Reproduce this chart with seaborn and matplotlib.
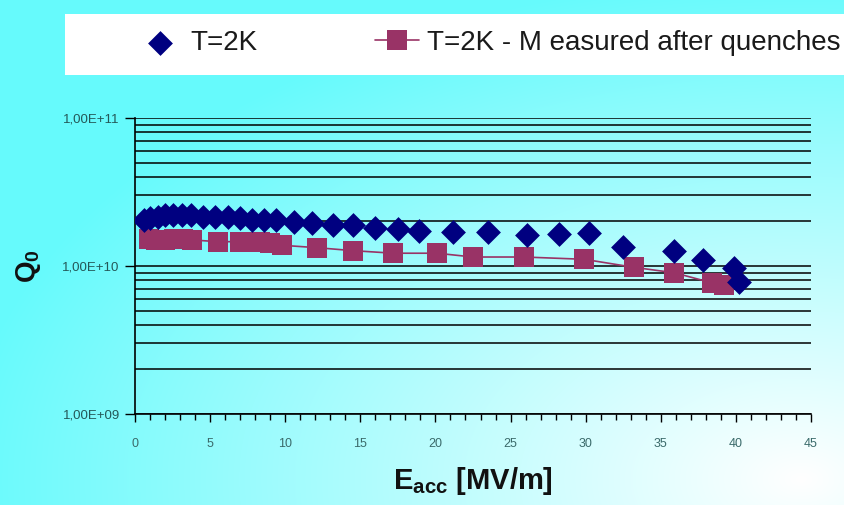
import matplotlib
matplotlib.use("Agg")
import matplotlib.pyplot as plt
import seaborn as sns
import numpy as np
import pandas as pd
from matplotlib.ticker import FixedLocator, FuncFormatter, MultipleLocator

# T=2K
e_2k = [0.6, 1.0, 1.5, 2.0, 2.5, 3.1, 3.7, 4.5, 5.3, 6.2, 7.0, 7.8, 8.6, 9.4, 10.6, 11.8,
        13.2, 14.5, 16.0, 17.5, 18.9, 21.2, 23.5, 26.1, 28.2, 30.2, 32.5, 35.9, 37.8, 39.9, 40.2]
q_2k = [2.05e10, 2.1e10, 2.15e10, 2.2e10, 2.2e10, 2.2e10, 2.2e10, 2.15e10, 2.15e10, 2.15e10,
        2.1e10, 2.05e10, 2.05e10, 2.05e10, 1.98e10, 1.95e10, 1.9e10, 1.88e10, 1.8e10, 1.78e10,
        1.72e10, 1.7e10, 1.7e10, 1.62e10, 1.65e10, 1.67e10, 1.34e10, 1.26e10, 1.1e10, 0.97e10, 0.78e10]

# T=2K - measured after quenches
e_q = [0.9, 1.4, 2.0, 2.6, 3.2, 3.8, 5.5, 7.0, 7.6, 8.3, 9.0, 9.8, 12.1, 14.5, 17.2, 20.1,
       22.5, 25.9, 29.9, 33.2, 35.9, 38.4, 39.2]
q_q = [1.52e10, 1.5e10, 1.5e10, 1.52e10, 1.52e10, 1.5e10, 1.46e10, 1.46e10, 1.46e10, 1.45e10,
       1.43e10, 1.38e10, 1.33e10, 1.27e10, 1.22e10, 1.22e10, 1.15e10, 1.15e10, 1.11e10, 0.98e10,
       0.90e10, 0.77e10, 0.74e10]

y_ticks = [1e9, 1e10, 1e11]
y_ticklabels = ["1,00E+09", "1,00E+10", "1,00E+11"]
x_ticks = [0, 5, 10, 15, 20, 25, 30, 35, 40, 45]

df1 = pd.DataFrame({"E": e_2k, "Q": q_2k})
df2 = pd.DataFrame({"E": e_q, "Q": q_q})

sns.set_style("white")
plt.rcParams["font.family"] = ["Liberation Sans", "DejaVu Sans"]

fig = plt.figure(figsize=(8.44, 5.05), dpi=100)

# background gradient
bg = fig.add_axes([0, 0, 1, 1], zorder=-10)
H, W = 505, 844
uu, vv = np.meshgrid(np.linspace(0, 1, W), np.linspace(0, 1, H))
d = np.sqrt((uu - 0.95) ** 2 + (vv - 0.95) ** 2)
w = np.clip(1 - d / 1.0, 0, 1)[..., None]
cyan = np.array([102, 250, 252]) / 255.0
img = cyan * (1 - w) + np.ones(3) * w
bg.imshow(img, aspect="auto", extent=[0, 1, 0, 1], origin="upper")
bg.axis("off")

# white legend box
fig.patches.append(plt.Rectangle((65 / W, 1 - 75 / H), 1.0, 61 / H, transform=fig.transFigure,
                                 facecolor="white", edgecolor="none", zorder=-5))

ax = fig.add_axes([135 / W, 1 - 414 / H, 676 / W, 296 / H])
ax.patch.set_alpha(0)

sns.lineplot(data=df2, x="E", y="Q", ax=ax, color="#993366", lw=1.2, marker="s", markersize=14,
             markeredgewidth=0, label="T=2K - M easured after quenches", zorder=3, sort=True)
sns.scatterplot(data=df1, x="E", y="Q", ax=ax, color="#000080", marker="D", s=160,
                linewidth=0, label="T=2K", zorder=4)

ax.set_yscale("log")
ax.set_ylim(1e9, 1e11)
ax.set_xlim(0, 45)

for lvl in range(9, 11):
    for m in range(1, 10):
        ax.axhline(m * 10 ** lvl, color="black", lw=1.1, zorder=1)
ax.axhline(1e11, color="black", lw=1.1, zorder=1)

ax.yaxis.set_major_locator(FixedLocator(y_ticks))
ax.yaxis.set_minor_locator(FixedLocator([]))
ax.yaxis.set_major_formatter(FuncFormatter(lambda v, p: y_ticklabels[y_ticks.index(v)] if v in y_ticks else ""))
ax.xaxis.set_major_locator(FixedLocator(x_ticks))
ax.xaxis.set_minor_locator(MultipleLocator(1))

ax.tick_params(axis="y", which="major", direction="out", length=7, width=1, color="black",
               labelsize=9.5, labelcolor="#245858", left=True, pad=4)
ax.tick_params(axis="x", which="major", direction="out", length=6, width=1, color="black",
               labelsize=9, labelcolor="#3a6a6a", bottom=True, pad=11)
ax.tick_params(axis="x", which="minor", direction="out", length=4, width=1, color="black", bottom=True)

for s in ["top", "right"]:
    ax.spines[s].set_visible(False)
for s in ["left", "bottom"]:
    ax.spines[s].set_color("black")
    ax.spines[s].set_linewidth(1.2)

ax.set_xlabel(r"E$_{\mathregular{acc}}$ [MV/m]", fontsize=21, fontweight="bold", labelpad=11,
              color="#111111")
ax.set_ylabel(r"Q$_{\mathregular{0}}$", fontsize=20, fontweight="bold", labelpad=14, color="#111111")

handles, labels = ax.get_legend_handles_labels()
order = [labels.index("T=2K"), labels.index("T=2K - M easured after quenches")]
ax.legend([handles[i] for i in order], [labels[i] for i in order], ncol=2, frameon=False,
          fontsize=20, loc="center left", bbox_to_anchor=(113 / W, 1 - 43 / H),
          bbox_transform=fig.transFigure, handlelength=1.6, handletextpad=0.3, columnspacing=4.2,
          labelcolor="#1a1a1a")

fig.savefig("out.png", dpi=100)
